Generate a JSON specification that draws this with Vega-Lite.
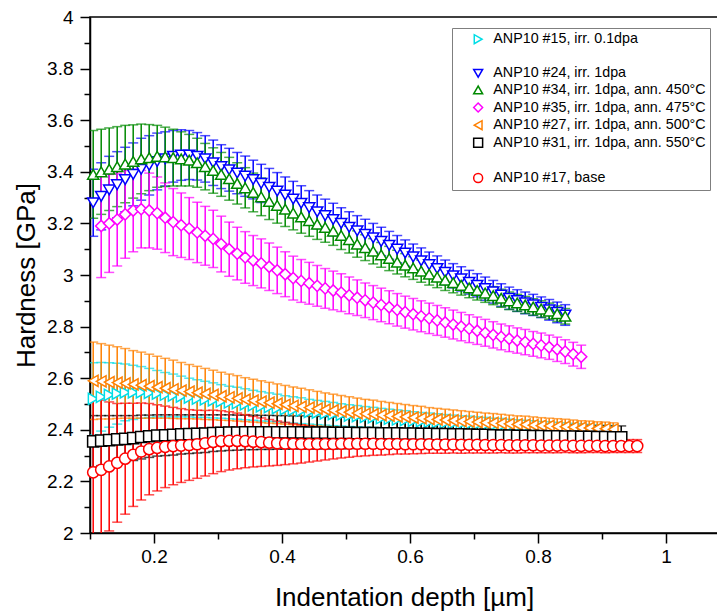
{
"$schema": "https://vega.github.io/schema/vega-lite/v6.json",
"width": 628, "height": 516,
"autosize": {"type": "none"},
"padding": {"left": 90, "top": 17, "right": 0, "bottom": 81},
"background": "white",
"config": {
 "view": {"stroke": "black", "strokeWidth": 1.5},
 "font": "Liberation Sans",
 "axis": {"grid": false, "domainColor": "black", "domainWidth": 1.5, "tickColor": "black", "tickWidth": 1.5, "labelColor": "black", "labelFont": "Liberation Sans", "labelFontSize": 19, "titleFont": "Liberation Sans", "titleFontSize": 26, "titleFontWeight": "normal", "titleColor": "black", "labelOverlap": false, "labelFlush": false, "format": "~g"},
 "legend": {"title": null, "orient": "none", "legendX": 362, "legendY": 11, "labelFont": "Liberation Sans", "labelFontSize": 14.3, "labelColor": "black", "labelLimit": 400, "padding": 4, "strokeColor": "#7f7f7f", "fillColor": "white", "rowPadding": 1.6, "symbolStrokeWidth": 1.5, "symbolSize": 80, "symbolOffset": 15, "labelOffset": 8}
},
"data": {"values": [
{"k":"a","x":0.105,"y":2.52,"e":0.14},{"k":"a","x":0.1175,"y":2.528,"e":0.133},{"k":"a","x":0.13,"y":2.535,"e":0.125},{"k":"a","x":0.1425,"y":2.54,"e":0.118},{"k":"a","x":0.155,"y":2.545,"e":0.11},{"k":"a","x":0.1675,"y":2.545,"e":0.105},{"k":"a","x":0.18,"y":2.545,"e":0.1},{"k":"a","x":0.1925,"y":2.543,"e":0.095},{"k":"a","x":0.205,"y":2.54,"e":0.09},{"k":"a","x":0.2175,"y":2.536,"e":0.086},{"k":"a","x":0.23,"y":2.533,"e":0.083},{"k":"a","x":0.2425,"y":2.529,"e":0.079},{"k":"a","x":0.255,"y":2.525,"e":0.075},{"k":"a","x":0.2675,"y":2.521,"e":0.073},{"k":"a","x":0.28,"y":2.518,"e":0.07},{"k":"a","x":0.2925,"y":2.514,"e":0.068},{"k":"a","x":0.305,"y":2.51,"e":0.065},{"k":"a","x":0.3175,"y":2.506,"e":0.063},{"k":"a","x":0.33,"y":2.503,"e":0.062},{"k":"a","x":0.3425,"y":2.499,"e":0.06},{"k":"a","x":0.355,"y":2.495,"e":0.058},{"k":"a","x":0.3675,"y":2.491,"e":0.057},{"k":"a","x":0.38,"y":2.488,"e":0.055},{"k":"a","x":0.3925,"y":2.484,"e":0.054},{"k":"a","x":0.405,"y":2.48,"e":0.052},{"k":"a","x":0.4175,"y":2.477,"e":0.051},{"k":"a","x":0.43,"y":2.474,"e":0.05},{"k":"a","x":0.4425,"y":2.47,"e":0.048},{"k":"a","x":0.455,"y":2.467,"e":0.047},{"k":"a","x":0.4675,"y":2.464,"e":0.046},{"k":"a","x":0.48,"y":2.461,"e":0.045},{"k":"a","x":0.4925,"y":2.458,"e":0.043},{"k":"a","x":0.505,"y":2.455,"e":0.042},{"k":"a","x":0.5175,"y":2.453,"e":0.041},{"k":"a","x":0.53,"y":2.45,"e":0.04},{"k":"a","x":0.5425,"y":2.448,"e":0.039},{"k":"a","x":0.555,"y":2.445,"e":0.038},{"k":"a","x":0.5675,"y":2.443,"e":0.037},{"k":"a","x":0.58,"y":2.44,"e":0.037},{"k":"a","x":0.5925,"y":2.438,"e":0.036},{"k":"a","x":0.605,"y":2.435,"e":0.035},{"k":"a","x":0.6175,"y":2.433,"e":0.034},{"k":"a","x":0.63,"y":2.431,"e":0.034},{"k":"a","x":0.6425,"y":2.429,"e":0.033},{"k":"a","x":0.655,"y":2.427,"e":0.032},{"k":"a","x":0.6675,"y":2.425,"e":0.032},{"k":"a","x":0.68,"y":2.423,"e":0.031},{"k":"a","x":0.6925,"y":2.422,"e":0.031},{"k":"a","x":0.705,"y":2.42,"e":0.03},{"k":"a","x":0.7175,"y":2.418,"e":0.03},{"k":"a","x":0.73,"y":2.416,"e":0.029},{"k":"a","x":0.7425,"y":2.415,"e":0.029},{"k":"a","x":0.755,"y":2.413,"e":0.028},{"k":"a","x":0.7675,"y":2.411,"e":0.028},{"k":"a","x":0.78,"y":2.41,"e":0.027},{"k":"a","x":0.7925,"y":2.408,"e":0.027},{"k":"a","x":0.805,"y":2.406,"e":0.026},{"k":"a","x":0.8175,"y":2.405,"e":0.026},{"k":"a","x":0.83,"y":2.403,"e":0.026},{"k":"a","x":0.8425,"y":2.402,"e":0.025},{"k":"a","x":0.855,"y":2.4,"e":0.025},{"k":"a","x":0.8675,"y":2.399,"e":0.025},{"k":"a","x":0.88,"y":2.397,"e":0.024},{"k":"a","x":0.8925,"y":2.396,"e":0.024},{"k":"a","x":0.905,"y":2.394,"e":0.024},{"k":"a","x":0.9175,"y":2.393,"e":0.024},
{"k":"b","x":0.105,"y":3.28,"e":0.13},{"k":"b","x":0.1175,"y":3.305,"e":0.13},{"k":"b","x":0.13,"y":3.33,"e":0.13},{"k":"b","x":0.1425,"y":3.35,"e":0.128},{"k":"b","x":0.155,"y":3.37,"e":0.125},{"k":"b","x":0.1675,"y":3.39,"e":0.122},{"k":"b","x":0.18,"y":3.41,"e":0.12},{"k":"b","x":0.1925,"y":3.425,"e":0.115},{"k":"b","x":0.205,"y":3.44,"e":0.11},{"k":"b","x":0.2175,"y":3.45,"e":0.105},{"k":"b","x":0.23,"y":3.46,"e":0.1},{"k":"b","x":0.2425,"y":3.465,"e":0.098},{"k":"b","x":0.255,"y":3.465,"e":0.095},{"k":"b","x":0.2675,"y":3.46,"e":0.092},{"k":"b","x":0.28,"y":3.45,"e":0.09},{"k":"b","x":0.2925,"y":3.435,"e":0.088},{"k":"b","x":0.305,"y":3.42,"e":0.085},{"k":"b","x":0.3175,"y":3.408,"e":0.083},{"k":"b","x":0.33,"y":3.395,"e":0.08},{"k":"b","x":0.3425,"y":3.383,"e":0.078},{"k":"b","x":0.355,"y":3.37,"e":0.075},{"k":"b","x":0.3675,"y":3.355,"e":0.074},{"k":"b","x":0.38,"y":3.34,"e":0.073},{"k":"b","x":0.3925,"y":3.325,"e":0.072},{"k":"b","x":0.405,"y":3.31,"e":0.07},{"k":"b","x":0.4175,"y":3.294,"e":0.069},{"k":"b","x":0.43,"y":3.278,"e":0.068},{"k":"b","x":0.4425,"y":3.261,"e":0.066},{"k":"b","x":0.455,"y":3.245,"e":0.065},{"k":"b","x":0.4675,"y":3.23,"e":0.064},{"k":"b","x":0.48,"y":3.215,"e":0.063},{"k":"b","x":0.4925,"y":3.2,"e":0.061},{"k":"b","x":0.505,"y":3.185,"e":0.06},{"k":"b","x":0.5175,"y":3.171,"e":0.059},{"k":"b","x":0.53,"y":3.158,"e":0.058},{"k":"b","x":0.5425,"y":3.144,"e":0.056},{"k":"b","x":0.555,"y":3.13,"e":0.055},{"k":"b","x":0.5675,"y":3.115,"e":0.054},{"k":"b","x":0.58,"y":3.1,"e":0.053},{"k":"b","x":0.5925,"y":3.085,"e":0.051},{"k":"b","x":0.605,"y":3.07,"e":0.05},{"k":"b","x":0.6175,"y":3.055,"e":0.05},{"k":"b","x":0.63,"y":3.04,"e":0.049},{"k":"b","x":0.6425,"y":3.025,"e":0.049},{"k":"b","x":0.655,"y":3.01,"e":0.048},{"k":"b","x":0.6675,"y":2.997,"e":0.047},{"k":"b","x":0.68,"y":2.985,"e":0.047},{"k":"b","x":0.6925,"y":2.972,"e":0.046},{"k":"b","x":0.705,"y":2.96,"e":0.045},{"k":"b","x":0.7175,"y":2.947,"e":0.045},{"k":"b","x":0.73,"y":2.935,"e":0.044},{"k":"b","x":0.7425,"y":2.922,"e":0.044},{"k":"b","x":0.755,"y":2.91,"e":0.043},{"k":"b","x":0.7675,"y":2.901,"e":0.042},{"k":"b","x":0.78,"y":2.892,"e":0.042},{"k":"b","x":0.7925,"y":2.884,"e":0.041},{"k":"b","x":0.805,"y":2.875,"e":0.04},{"k":"b","x":0.8175,"y":2.865,"e":0.04},{"k":"b","x":0.83,"y":2.855,"e":0.04},{"k":"b","x":0.8425,"y":2.845,"e":0.04},
{"k":"c","x":0.105,"y":3.39,"e":0.17},{"k":"c","x":0.1175,"y":3.4,"e":0.165},{"k":"c","x":0.13,"y":3.41,"e":0.16},{"k":"c","x":0.1425,"y":3.42,"e":0.155},{"k":"c","x":0.155,"y":3.43,"e":0.15},{"k":"c","x":0.1675,"y":3.44,"e":0.142},{"k":"c","x":0.18,"y":3.45,"e":0.135},{"k":"c","x":0.1925,"y":3.455,"e":0.128},{"k":"c","x":0.205,"y":3.46,"e":0.12},{"k":"c","x":0.2175,"y":3.458,"e":0.115},{"k":"c","x":0.23,"y":3.455,"e":0.11},{"k":"c","x":0.2425,"y":3.45,"e":0.105},{"k":"c","x":0.255,"y":3.445,"e":0.1},{"k":"c","x":0.2675,"y":3.435,"e":0.095},{"k":"c","x":0.28,"y":3.42,"e":0.09},{"k":"c","x":0.2925,"y":3.405,"e":0.088},{"k":"c","x":0.305,"y":3.39,"e":0.085},{"k":"c","x":0.3175,"y":3.373,"e":0.083},{"k":"c","x":0.33,"y":3.355,"e":0.08},{"k":"c","x":0.3425,"y":3.338,"e":0.078},{"k":"c","x":0.355,"y":3.32,"e":0.075},{"k":"c","x":0.3675,"y":3.303,"e":0.073},{"k":"c","x":0.38,"y":3.285,"e":0.07},{"k":"c","x":0.3925,"y":3.27,"e":0.069},{"k":"c","x":0.405,"y":3.255,"e":0.067},{"k":"c","x":0.4175,"y":3.24,"e":0.065},{"k":"c","x":0.43,"y":3.225,"e":0.063},{"k":"c","x":0.4425,"y":3.211,"e":0.061},{"k":"c","x":0.455,"y":3.197,"e":0.059},{"k":"c","x":0.4675,"y":3.184,"e":0.057},{"k":"c","x":0.48,"y":3.17,"e":0.055},{"k":"c","x":0.4925,"y":3.153,"e":0.054},{"k":"c","x":0.505,"y":3.137,"e":0.052},{"k":"c","x":0.5175,"y":3.12,"e":0.051},{"k":"c","x":0.53,"y":3.106,"e":0.05},{"k":"c","x":0.5425,"y":3.092,"e":0.049},{"k":"c","x":0.555,"y":3.078,"e":0.048},{"k":"c","x":0.5675,"y":3.064,"e":0.047},{"k":"c","x":0.58,"y":3.05,"e":0.046},{"k":"c","x":0.5925,"y":3.038,"e":0.045},{"k":"c","x":0.605,"y":3.027,"e":0.044},{"k":"c","x":0.6175,"y":3.015,"e":0.043},{"k":"c","x":0.63,"y":3.003,"e":0.042},{"k":"c","x":0.6425,"y":2.992,"e":0.041},{"k":"c","x":0.655,"y":2.98,"e":0.04},{"k":"c","x":0.6675,"y":2.97,"e":0.039},{"k":"c","x":0.68,"y":2.96,"e":0.038},{"k":"c","x":0.6925,"y":2.95,"e":0.038},{"k":"c","x":0.705,"y":2.94,"e":0.037},{"k":"c","x":0.7175,"y":2.93,"e":0.036},{"k":"c","x":0.73,"y":2.92,"e":0.035},{"k":"c","x":0.7425,"y":2.91,"e":0.035},{"k":"c","x":0.755,"y":2.9,"e":0.034},{"k":"c","x":0.7675,"y":2.892,"e":0.033},{"k":"c","x":0.78,"y":2.884,"e":0.033},{"k":"c","x":0.7925,"y":2.876,"e":0.032},{"k":"c","x":0.805,"y":2.868,"e":0.032},{"k":"c","x":0.8175,"y":2.86,"e":0.031},{"k":"c","x":0.83,"y":2.85,"e":0.03},{"k":"c","x":0.8425,"y":2.84,"e":0.03},
{"k":"d","x":0.1175,"y":3.19,"e":0.2},{"k":"d","x":0.13,"y":3.2,"e":0.19},{"k":"d","x":0.1425,"y":3.215,"e":0.18},{"k":"d","x":0.155,"y":3.235,"e":0.17},{"k":"d","x":0.1675,"y":3.25,"e":0.16},{"k":"d","x":0.18,"y":3.255,"e":0.15},{"k":"d","x":0.1925,"y":3.25,"e":0.145},{"k":"d","x":0.205,"y":3.24,"e":0.14},{"k":"d","x":0.2175,"y":3.222,"e":0.135},{"k":"d","x":0.23,"y":3.205,"e":0.13},{"k":"d","x":0.2425,"y":3.193,"e":0.125},{"k":"d","x":0.255,"y":3.18,"e":0.12},{"k":"d","x":0.2675,"y":3.165,"e":0.117},{"k":"d","x":0.28,"y":3.152,"e":0.114},{"k":"d","x":0.2925,"y":3.14,"e":0.111},{"k":"d","x":0.305,"y":3.12,"e":0.108},{"k":"d","x":0.3175,"y":3.1,"e":0.105},{"k":"d","x":0.33,"y":3.083,"e":0.102},{"k":"d","x":0.3425,"y":3.068,"e":0.1},{"k":"d","x":0.355,"y":3.056,"e":0.097},{"k":"d","x":0.3675,"y":3.045,"e":0.095},{"k":"d","x":0.38,"y":3.032,"e":0.092},{"k":"d","x":0.3925,"y":3.018,"e":0.09},{"k":"d","x":0.405,"y":3.003,"e":0.087},{"k":"d","x":0.4175,"y":2.988,"e":0.085},{"k":"d","x":0.43,"y":2.977,"e":0.083},{"k":"d","x":0.4425,"y":2.968,"e":0.081},{"k":"d","x":0.455,"y":2.958,"e":0.079},{"k":"d","x":0.4675,"y":2.948,"e":0.077},{"k":"d","x":0.48,"y":2.94,"e":0.075},{"k":"d","x":0.4925,"y":2.932,"e":0.073},{"k":"d","x":0.505,"y":2.921,"e":0.071},{"k":"d","x":0.5175,"y":2.912,"e":0.069},{"k":"d","x":0.53,"y":2.902,"e":0.067},{"k":"d","x":0.5425,"y":2.893,"e":0.066},{"k":"d","x":0.555,"y":2.884,"e":0.065},{"k":"d","x":0.5675,"y":2.875,"e":0.064},{"k":"d","x":0.58,"y":2.865,"e":0.063},{"k":"d","x":0.5925,"y":2.856,"e":0.062},{"k":"d","x":0.605,"y":2.848,"e":0.061},{"k":"d","x":0.6175,"y":2.84,"e":0.06},{"k":"d","x":0.63,"y":2.832,"e":0.059},{"k":"d","x":0.6425,"y":2.824,"e":0.058},{"k":"d","x":0.655,"y":2.816,"e":0.057},{"k":"d","x":0.6675,"y":2.808,"e":0.056},{"k":"d","x":0.68,"y":2.8,"e":0.055},{"k":"d","x":0.6925,"y":2.792,"e":0.054},{"k":"d","x":0.705,"y":2.784,"e":0.053},{"k":"d","x":0.7175,"y":2.776,"e":0.052},{"k":"d","x":0.73,"y":2.768,"e":0.051},{"k":"d","x":0.7425,"y":2.76,"e":0.05},{"k":"d","x":0.755,"y":2.753,"e":0.05},{"k":"d","x":0.7675,"y":2.746,"e":0.049},{"k":"d","x":0.78,"y":2.74,"e":0.049},{"k":"d","x":0.7925,"y":2.733,"e":0.048},{"k":"d","x":0.805,"y":2.727,"e":0.048},{"k":"d","x":0.8175,"y":2.72,"e":0.047},{"k":"d","x":0.83,"y":2.712,"e":0.047},{"k":"d","x":0.8425,"y":2.703,"e":0.046},{"k":"d","x":0.855,"y":2.693,"e":0.046},{"k":"d","x":0.8675,"y":2.683,"e":0.045},
{"k":"e","x":0.105,"y":2.59,"e":0.15},{"k":"e","x":0.1175,"y":2.588,"e":0.146},{"k":"e","x":0.13,"y":2.585,"e":0.143},{"k":"e","x":0.1425,"y":2.583,"e":0.139},{"k":"e","x":0.155,"y":2.58,"e":0.135},{"k":"e","x":0.1675,"y":2.576,"e":0.131},{"k":"e","x":0.18,"y":2.573,"e":0.128},{"k":"e","x":0.1925,"y":2.569,"e":0.124},{"k":"e","x":0.205,"y":2.565,"e":0.12},{"k":"e","x":0.2175,"y":2.561,"e":0.116},{"k":"e","x":0.23,"y":2.557,"e":0.113},{"k":"e","x":0.2425,"y":2.552,"e":0.109},{"k":"e","x":0.255,"y":2.548,"e":0.105},{"k":"e","x":0.2675,"y":2.544,"e":0.102},{"k":"e","x":0.28,"y":2.539,"e":0.099},{"k":"e","x":0.2925,"y":2.535,"e":0.096},{"k":"e","x":0.305,"y":2.53,"e":0.093},{"k":"e","x":0.3175,"y":2.526,"e":0.09},{"k":"e","x":0.33,"y":2.522,"e":0.088},{"k":"e","x":0.3425,"y":2.517,"e":0.085},{"k":"e","x":0.355,"y":2.513,"e":0.083},{"k":"e","x":0.3675,"y":2.509,"e":0.081},{"k":"e","x":0.38,"y":2.505,"e":0.079},{"k":"e","x":0.3925,"y":2.501,"e":0.077},{"k":"e","x":0.405,"y":2.497,"e":0.075},{"k":"e","x":0.4175,"y":2.493,"e":0.073},{"k":"e","x":0.43,"y":2.49,"e":0.071},{"k":"e","x":0.4425,"y":2.486,"e":0.069},{"k":"e","x":0.455,"y":2.482,"e":0.067},{"k":"e","x":0.4675,"y":2.478,"e":0.065},{"k":"e","x":0.48,"y":2.475,"e":0.063},{"k":"e","x":0.4925,"y":2.471,"e":0.062},{"k":"e","x":0.505,"y":2.468,"e":0.06},{"k":"e","x":0.5175,"y":2.465,"e":0.058},{"k":"e","x":0.53,"y":2.462,"e":0.056},{"k":"e","x":0.5425,"y":2.46,"e":0.055},{"k":"e","x":0.555,"y":2.457,"e":0.053},{"k":"e","x":0.5675,"y":2.455,"e":0.051},{"k":"e","x":0.58,"y":2.452,"e":0.05},{"k":"e","x":0.5925,"y":2.45,"e":0.048},{"k":"e","x":0.605,"y":2.447,"e":0.047},{"k":"e","x":0.6175,"y":2.445,"e":0.046},{"k":"e","x":0.63,"y":2.442,"e":0.044},{"k":"e","x":0.6425,"y":2.44,"e":0.043},{"k":"e","x":0.655,"y":2.438,"e":0.042},{"k":"e","x":0.6675,"y":2.436,"e":0.041},{"k":"e","x":0.68,"y":2.434,"e":0.04},{"k":"e","x":0.6925,"y":2.432,"e":0.039},{"k":"e","x":0.705,"y":2.43,"e":0.038},{"k":"e","x":0.7175,"y":2.428,"e":0.037},{"k":"e","x":0.73,"y":2.427,"e":0.036},{"k":"e","x":0.7425,"y":2.425,"e":0.035},{"k":"e","x":0.755,"y":2.423,"e":0.034},{"k":"e","x":0.7675,"y":2.421,"e":0.033},{"k":"e","x":0.78,"y":2.42,"e":0.033},{"k":"e","x":0.7925,"y":2.418,"e":0.032},{"k":"e","x":0.805,"y":2.416,"e":0.031},{"k":"e","x":0.8175,"y":2.415,"e":0.03},{"k":"e","x":0.83,"y":2.413,"e":0.03},{"k":"e","x":0.8425,"y":2.412,"e":0.029},{"k":"e","x":0.855,"y":2.41,"e":0.028},{"k":"e","x":0.8675,"y":2.408,"e":0.027},{"k":"e","x":0.88,"y":2.407,"e":0.027},{"k":"e","x":0.8925,"y":2.405,"e":0.026},{"k":"e","x":0.905,"y":2.404,"e":0.026},{"k":"e","x":0.9175,"y":2.402,"e":0.025},
{"k":"f","x":0.105,"y":2.355,"e":0.1},{"k":"f","x":0.1175,"y":2.358,"e":0.097},{"k":"f","x":0.13,"y":2.36,"e":0.095},{"k":"f","x":0.1425,"y":2.363,"e":0.092},{"k":"f","x":0.155,"y":2.365,"e":0.09},{"k":"f","x":0.1675,"y":2.368,"e":0.087},{"k":"f","x":0.18,"y":2.372,"e":0.085},{"k":"f","x":0.1925,"y":2.375,"e":0.082},{"k":"f","x":0.205,"y":2.378,"e":0.08},{"k":"f","x":0.2175,"y":2.379,"e":0.079},{"k":"f","x":0.23,"y":2.38,"e":0.078},{"k":"f","x":0.2425,"y":2.382,"e":0.076},{"k":"f","x":0.255,"y":2.383,"e":0.075},{"k":"f","x":0.2675,"y":2.384,"e":0.074},{"k":"f","x":0.28,"y":2.385,"e":0.073},{"k":"f","x":0.2925,"y":2.387,"e":0.071},{"k":"f","x":0.305,"y":2.388,"e":0.07},{"k":"f","x":0.3175,"y":2.389,"e":0.069},{"k":"f","x":0.33,"y":2.389,"e":0.068},{"k":"f","x":0.3425,"y":2.39,"e":0.067},{"k":"f","x":0.355,"y":2.39,"e":0.067},{"k":"f","x":0.3675,"y":2.39,"e":0.066},{"k":"f","x":0.38,"y":2.39,"e":0.066},{"k":"f","x":0.3925,"y":2.39,"e":0.065},{"k":"f","x":0.405,"y":2.39,"e":0.065},{"k":"f","x":0.4175,"y":2.39,"e":0.064},{"k":"f","x":0.43,"y":2.39,"e":0.064},{"k":"f","x":0.4425,"y":2.389,"e":0.063},{"k":"f","x":0.455,"y":2.389,"e":0.063},{"k":"f","x":0.4675,"y":2.389,"e":0.062},{"k":"f","x":0.48,"y":2.388,"e":0.062},{"k":"f","x":0.4925,"y":2.388,"e":0.061},{"k":"f","x":0.505,"y":2.388,"e":0.06},{"k":"f","x":0.5175,"y":2.387,"e":0.059},{"k":"f","x":0.53,"y":2.387,"e":0.058},{"k":"f","x":0.5425,"y":2.387,"e":0.057},{"k":"f","x":0.555,"y":2.386,"e":0.056},{"k":"f","x":0.5675,"y":2.386,"e":0.055},{"k":"f","x":0.58,"y":2.386,"e":0.054},{"k":"f","x":0.5925,"y":2.385,"e":0.053},{"k":"f","x":0.605,"y":2.385,"e":0.052},{"k":"f","x":0.6175,"y":2.384,"e":0.052},{"k":"f","x":0.63,"y":2.384,"e":0.051},{"k":"f","x":0.6425,"y":2.383,"e":0.051},{"k":"f","x":0.655,"y":2.383,"e":0.05},{"k":"f","x":0.6675,"y":2.382,"e":0.05},{"k":"f","x":0.68,"y":2.382,"e":0.049},{"k":"f","x":0.6925,"y":2.381,"e":0.049},{"k":"f","x":0.705,"y":2.38,"e":0.048},{"k":"f","x":0.7175,"y":2.38,"e":0.048},{"k":"f","x":0.73,"y":2.379,"e":0.047},{"k":"f","x":0.7425,"y":2.378,"e":0.047},{"k":"f","x":0.755,"y":2.378,"e":0.047},{"k":"f","x":0.7675,"y":2.377,"e":0.046},{"k":"f","x":0.78,"y":2.377,"e":0.046},{"k":"f","x":0.7925,"y":2.376,"e":0.046},{"k":"f","x":0.805,"y":2.376,"e":0.045},{"k":"f","x":0.8175,"y":2.375,"e":0.045},{"k":"f","x":0.83,"y":2.375,"e":0.045},{"k":"f","x":0.8425,"y":2.374,"e":0.045},{"k":"f","x":0.855,"y":2.374,"e":0.045},{"k":"f","x":0.8675,"y":2.373,"e":0.044},{"k":"f","x":0.88,"y":2.373,"e":0.044},{"k":"f","x":0.8925,"y":2.372,"e":0.044},{"k":"f","x":0.905,"y":2.372,"e":0.044},{"k":"f","x":0.9175,"y":2.371,"e":0.044},{"k":"f","x":0.93,"y":2.371,"e":0.044},
{"k":"h","x":0.105,"y":2.235,"e":0.29},{"k":"h","x":0.1175,"y":2.245,"e":0.27},{"k":"h","x":0.13,"y":2.258,"e":0.25},{"k":"h","x":0.1425,"y":2.272,"e":0.23},{"k":"h","x":0.155,"y":2.288,"e":0.215},{"k":"h","x":0.1675,"y":2.303,"e":0.2},{"k":"h","x":0.18,"y":2.316,"e":0.188},{"k":"h","x":0.1925,"y":2.325,"e":0.177},{"k":"h","x":0.205,"y":2.33,"e":0.167},{"k":"h","x":0.2175,"y":2.334,"e":0.158},{"k":"h","x":0.23,"y":2.337,"e":0.15},{"k":"h","x":0.2425,"y":2.339,"e":0.143},{"k":"h","x":0.255,"y":2.341,"e":0.137},{"k":"h","x":0.2675,"y":2.344,"e":0.132},{"k":"h","x":0.28,"y":2.348,"e":0.127},{"k":"h","x":0.2925,"y":2.353,"e":0.123},{"k":"h","x":0.305,"y":2.356,"e":0.118},{"k":"h","x":0.3175,"y":2.357,"e":0.113},{"k":"h","x":0.33,"y":2.357,"e":0.108},{"k":"h","x":0.3425,"y":2.356,"e":0.103},{"k":"h","x":0.355,"y":2.354,"e":0.098},{"k":"h","x":0.3675,"y":2.352,"e":0.094},{"k":"h","x":0.38,"y":2.35,"e":0.09},{"k":"h","x":0.3925,"y":2.348,"e":0.086},{"k":"h","x":0.405,"y":2.347,"e":0.082},{"k":"h","x":0.4175,"y":2.346,"e":0.078},{"k":"h","x":0.43,"y":2.345,"e":0.074},{"k":"h","x":0.4425,"y":2.345,"e":0.07},{"k":"h","x":0.455,"y":2.345,"e":0.066},{"k":"h","x":0.4675,"y":2.345,"e":0.062},{"k":"h","x":0.48,"y":2.345,"e":0.058},{"k":"h","x":0.4925,"y":2.346,"e":0.055},{"k":"h","x":0.505,"y":2.346,"e":0.052},{"k":"h","x":0.5175,"y":2.346,"e":0.049},{"k":"h","x":0.53,"y":2.346,"e":0.047},{"k":"h","x":0.5425,"y":2.346,"e":0.045},{"k":"h","x":0.555,"y":2.345,"e":0.043},{"k":"h","x":0.5675,"y":2.345,"e":0.041},{"k":"h","x":0.58,"y":2.345,"e":0.039},{"k":"h","x":0.5925,"y":2.344,"e":0.038},{"k":"h","x":0.605,"y":2.344,"e":0.037},{"k":"h","x":0.6175,"y":2.344,"e":0.036},{"k":"h","x":0.63,"y":2.344,"e":0.035},{"k":"h","x":0.6425,"y":2.343,"e":0.034},{"k":"h","x":0.655,"y":2.343,"e":0.034},{"k":"h","x":0.6675,"y":2.343,"e":0.033},{"k":"h","x":0.68,"y":2.342,"e":0.033},{"k":"h","x":0.6925,"y":2.342,"e":0.032},{"k":"h","x":0.705,"y":2.342,"e":0.032},{"k":"h","x":0.7175,"y":2.341,"e":0.031},{"k":"h","x":0.73,"y":2.341,"e":0.031},{"k":"h","x":0.7425,"y":2.341,"e":0.03},{"k":"h","x":0.755,"y":2.34,"e":0.03},{"k":"h","x":0.7675,"y":2.34,"e":0.03},{"k":"h","x":0.78,"y":2.34,"e":0.029},{"k":"h","x":0.7925,"y":2.34,"e":0.029},{"k":"h","x":0.805,"y":2.339,"e":0.028},{"k":"h","x":0.8175,"y":2.339,"e":0.028},{"k":"h","x":0.83,"y":2.339,"e":0.028},{"k":"h","x":0.8425,"y":2.339,"e":0.027},{"k":"h","x":0.855,"y":2.338,"e":0.027},{"k":"h","x":0.8675,"y":2.338,"e":0.027},{"k":"h","x":0.88,"y":2.338,"e":0.026},{"k":"h","x":0.8925,"y":2.338,"e":0.026},{"k":"h","x":0.905,"y":2.337,"e":0.026},{"k":"h","x":0.9175,"y":2.337,"e":0.025},{"k":"h","x":0.93,"y":2.337,"e":0.025},{"k":"h","x":0.9425,"y":2.337,"e":0.025},{"k":"h","x":0.955,"y":2.337,"e":0.025}
]},
"encoding": {
 "x": {"field": "x", "type": "quantitative", "scale": {"domain": [0.1, 1.08125], "nice": false, "zero": false},
  "axis": {"title": "Indentation depth [µm]", "values": [0.1,0.2,0.3,0.4,0.5,0.6,0.7,0.8,0.9,1.0],
   "labelExpr": "round(datum.value*10)%2==0 ? datum.label : ''",
   "tickSize": {"condition": {"test": "round(datum.value*10)%2==0", "value": 10}, "value": 6},
   "labelPadding": 4, "titlePadding": 18}},
 "y": {"field": "y", "type": "quantitative", "scale": {"domain": [2, 4], "nice": false, "zero": false},
  "axis": {"title": "Hardness [GPa]", "values": [2,2.1,2.2,2.3,2.4,2.5,2.6,2.7,2.8,2.9,3,3.1,3.2,3.3,3.4,3.5,3.6,3.7,3.8,3.9,4],
   "labelExpr": "round(datum.value*10)%2==0 ? datum.label : ''",
   "tickSize": {"condition": {"test": "round(datum.value*10)%2==0", "value": 10}, "value": 6},
   "labelPadding": 7, "titlePadding": 7}}
},
"layer": [
 {"mark": {"type": "errorbar", "ticks": true, "size": 10, "thickness": 1.5, "clip": true},
  "encoding": {"yError": {"field": "e"},
   "color": {"field": "k", "type": "nominal", "scale": {"domain": ["a","b","c","d","e","f","h"], "range": ["#00dde6","#0000ff","#008a00","#ff00ff","#ff8000","#000000","#ff0000"]}, "legend": null}}},
 {"mark": {"type": "point", "filled": true, "fill": "white", "opacity": 1, "fillOpacity": 1, "size": 125, "strokeWidth": 1.5},
  "encoding": {
   "stroke": {"field": "k", "type": "nominal", "scale": {"domain": ["a","g1","b","c","d","e","f","g2","h"], "range": ["#00dde6","white","#0000ff","#008a00","#ff00ff","#ff8000","#000000","white","#ff0000"]},
    "legend": {"labelExpr": "datum.label=='a'?'ANP10 #15, irr. 0.1dpa':datum.label=='b'?'ANP10 #24, irr. 1dpa':datum.label=='c'?'ANP10 #34, irr. 1dpa, ann. 450°C':datum.label=='d'?'ANP10 #35, irr. 1dpa, ann. 475°C':datum.label=='e'?'ANP10 #27, irr. 1dpa, ann. 500°C':datum.label=='f'?'ANP10 #31, irr. 1dpa, ann. 550°C':datum.label=='h'?'ANP10 #17, base':'\u00a0'"}},
   "shape": {"field": "k", "type": "nominal", "scale": {"domain": ["a","g1","b","c","d","e","f","g2","h"], "range": ["triangle-right","circle","triangle-down","triangle-up","diamond","triangle-left","square","circle","circle"]},
    "legend": {"labelExpr": "datum.label=='a'?'ANP10 #15, irr. 0.1dpa':datum.label=='b'?'ANP10 #24, irr. 1dpa':datum.label=='c'?'ANP10 #34, irr. 1dpa, ann. 450°C':datum.label=='d'?'ANP10 #35, irr. 1dpa, ann. 475°C':datum.label=='e'?'ANP10 #27, irr. 1dpa, ann. 500°C':datum.label=='f'?'ANP10 #31, irr. 1dpa, ann. 550°C':datum.label=='h'?'ANP10 #17, base':'\u00a0'"}}
  }}
]
}
